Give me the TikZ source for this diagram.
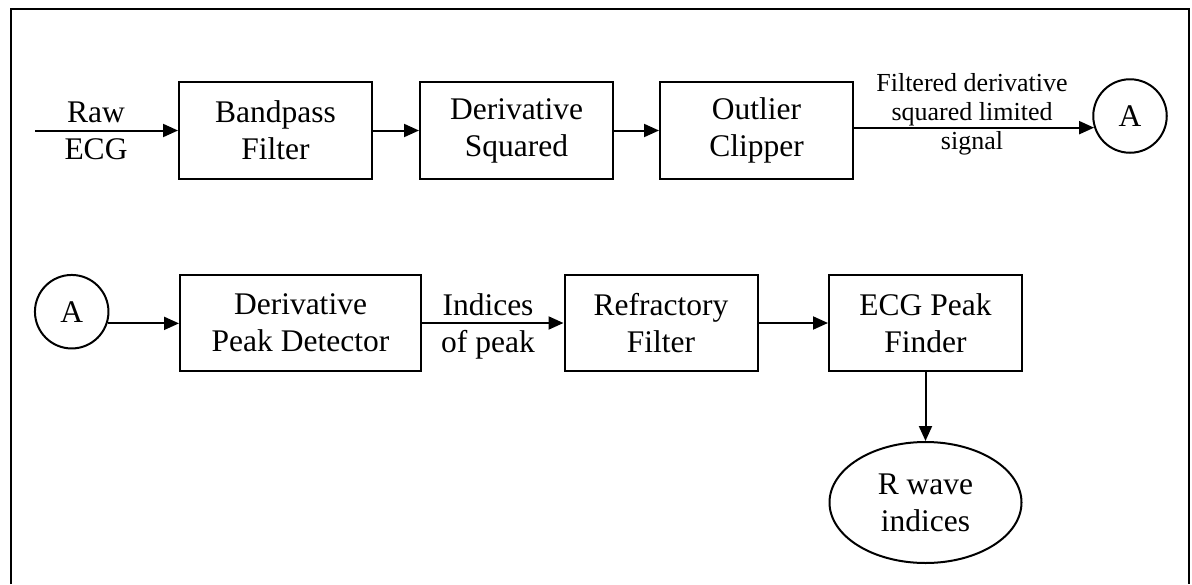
\documentclass[tikz,border=0pt]{standalone}
\usepackage{fontspec}
\setmainfont{Liberation Serif}
\usetikzlibrary{arrows.meta,shapes.geometric}
\begin{document}
\begin{tikzpicture}[x=1pt,y=-1pt,
  blk/.style={draw,line width=2pt,minimum width=193pt,minimum height=96.5pt,inner sep=0pt,align=center,font=\fontsize{31.5}{37}\selectfont},
  conn/.style={draw,line width=2pt,circle,minimum size=73.5pt,inner sep=0pt,font=\fontsize{31.5}{37}\selectfont},
  lbl/.style={align=center,inner sep=0pt,font=\fontsize{31.5}{37}\selectfont},
  slbl/.style={align=center,inner sep=0pt,font=\fontsize{26}{29}\selectfont},
  flow/.style={line width=2pt,-{Triangle[length=15pt,width=13pt]}}]
\useasboundingbox (0,0) rectangle (1192,584);
\draw[line width=1.6pt] (11,584) -- (11,9) -- (1189,9) -- (1189,584);
% row 1
\coordinate (in) at (35,130.5);
\node[blk] (bp) at (275.5,130.5) {Bandpass\\Filter};
\node[blk] (ds) at (516.5,130.5) {Derivative\\Squared};
\node[blk] (oc) at (756.5,130.5) {Outlier\\Clipper};
\node[conn] (a1) at (1130,116) {A};
\node[lbl] (raw) at (96,130.5) {Raw\\ECG};
\node[slbl] (fl) at (972,114) {Filtered derivative\\squared limited\\signal};
\draw[flow] (in) -- (bp.west);
\draw[flow] (bp.east) -- (ds.west);
\draw[flow] (ds.east) -- (oc.west);
\draw[flow] (a1.198 -| oc.east) -- (a1.198);
% row 2
\node[conn] (a2) at (71.7,311.7) {A};
\node[blk,minimum width=241pt] (pd) at (300.5,323) {Derivative\\Peak Detector};
\node[blk] (rf) at (661,323) {Refractory\\Filter};
\node[blk] (ep) at (925.5,323) {ECG Peak\\Finder};
\node[lbl] (idx) at (488,326) {Indices\\of peak};
\node[draw,line width=2pt,ellipse,minimum width=192pt,minimum height=121pt,inner sep=0pt,align=center,font=\fontsize{31.5}{37}\selectfont] (rw) at (925.5,502.5) {R wave\\indices};
\draw[flow] (a2.-18) -- (a2.-18 -| pd.west);
\draw[flow] (pd.east) -- (rf.west);
\draw[flow] (rf.east) -- (ep.west);
\draw[flow] (ep.south) -- (rw.north);
\end{tikzpicture}
\end{document}
